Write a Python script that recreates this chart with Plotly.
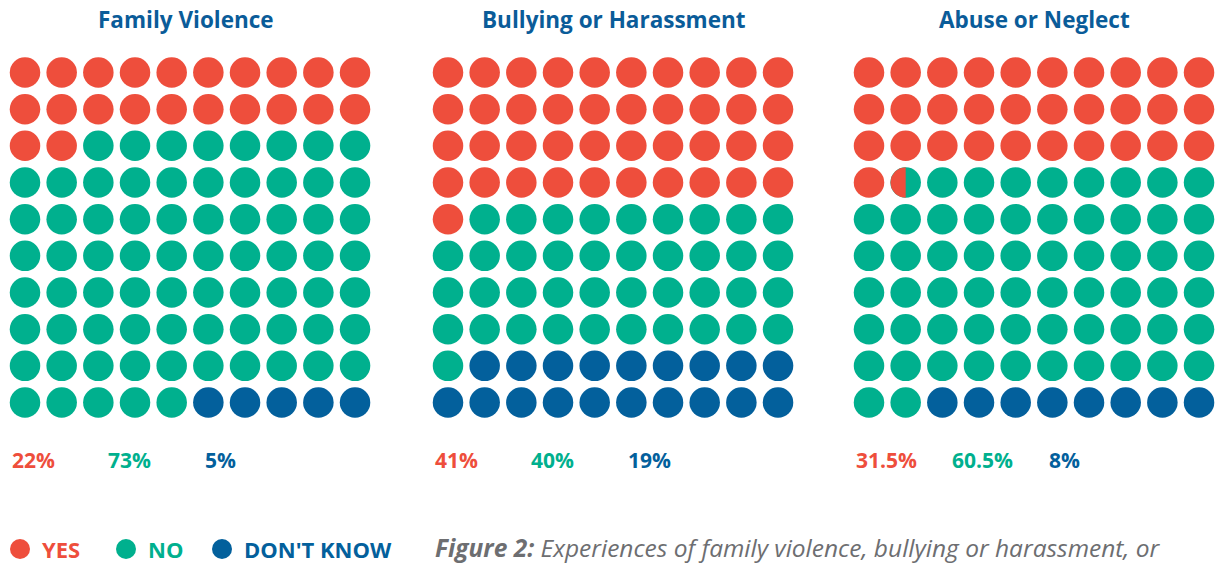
import plotly.graph_objects as go
import numpy as np

# ---- data ----
panels = ["Family Violence", "Bullying or Harassment", "Abuse or Neglect"]
yes_pct = [22, 41, 31.5]
no_pct = [73, 40, 60.5]
dk_pct = [5, 19, 8]
pct_labels_yes = ["22%", "41%", "31.5%"]
pct_labels_no = ["73%", "40%", "60.5%"]
pct_labels_dk = ["5%", "19%", "8%"]
legend_labels = ["YES", "NO", "DON'T KNOW"]

RED = "#EE4E3C"
GREEN = "#00B08E"
BLUE = "#03609C"
TITLE_BLUE = "#0A5C99"

# ---- layout geometry (pixels) ----
W, H = 1215, 565
panel_x0 = [25, 448, 869]
step = 36.67
row_y0 = 72.5
dot = 30.5
title_x = [186, 614, 1034]

fig = go.Figure()

for p in range(3):
    xs = {"r": [], "g": [], "b": []}
    ys = {"r": [], "g": [], "b": []}
    half = []
    for i in range(100):
        r, c = divmod(i, 10)
        x = panel_x0[p] + c * step
        y = row_y0 + r * step
        idx = i + 1
        if idx <= int(yes_pct[p]):
            k = "r"
        elif idx <= yes_pct[p] + 0.5 and yes_pct[p] % 1:
            half.append((x, y))
            k = "g"
        elif idx <= yes_pct[p] + no_pct[p]:
            k = "g"
        else:
            k = "b"
        xs[k].append(x)
        ys[k].append(y)
    for k, col in (("r", RED), ("g", GREEN), ("b", BLUE)):
        fig.add_trace(go.Scatter(x=xs[k], y=ys[k], mode="markers",
                                 marker=dict(size=dot, color=col, line=dict(width=0)),
                                 hoverinfo="skip", showlegend=False))
    for (hx, hy) in half:
        rad = dot / 2
        t = np.linspace(np.pi / 2, 3 * np.pi / 2, 40)
        px = list(hx + rad * np.cos(t)) + [hx]
        py = list(hy - rad * np.sin(t)) + [hy - rad]
        fig.add_trace(go.Scatter(x=px, y=py, mode="lines", fill="toself",
                                 fillcolor=RED, line=dict(width=0, color=RED),
                                 hoverinfo="skip", showlegend=False))
    # title
    fig.add_annotation(x=title_x[p], y=19, text="<b>" + panels[p] + "</b>",
                       showarrow=False, xanchor="center", yanchor="middle",
                       font=dict(family="Open Sans", size=22.5, color=TITLE_BLUE))
    # percentages
    for lbl, col, off in ((pct_labels_yes[p], RED, -15), (pct_labels_no[p], GREEN, 81),
                          (pct_labels_dk[p], BLUE, 178)):
        fig.add_annotation(x=panel_x0[p] + off, y=460, text="<b>" + lbl + "</b>",
                           showarrow=False, xanchor="left", yanchor="middle",
                           font=dict(family="Open Sans", size=21, color=col))

# legend
leg_x = [20, 126, 222]
for lbl, col, lx in zip(legend_labels, (RED, GREEN, BLUE), leg_x):
    fig.add_trace(go.Scatter(x=[lx], y=[549], mode="markers",
                             marker=dict(size=20, color=col), hoverinfo="skip",
                             showlegend=False))
    fig.add_annotation(x=lx + 20, y=549, text="<b>" + lbl + "</b>", showarrow=False,
                       xanchor="left", yanchor="middle",
                       font=dict(family="Open Sans", size=22, color=col))

fig.add_annotation(x=433, y=547,
                   text="<b><i>Figure 2:</i></b><i> Experiences of family violence, bullying or harassment, or</i>",
                   showarrow=False, xanchor="left", yanchor="middle",
                   font=dict(family="Open Sans", size=24.5, color="#6D6E71"))

fig.update_layout(
    width=W, height=H, margin=dict(l=0, r=0, t=0, b=0),
    paper_bgcolor="white", plot_bgcolor="white",
    xaxis=dict(range=[0, W], visible=False, fixedrange=True),
    yaxis=dict(range=[H, 0], visible=False, fixedrange=True),
    showlegend=False,
)
fig.write_html("out.html", config={"displayModeBar": False},
               post_script="document.body.style.margin='0';document.body.style.overflow='hidden';")
